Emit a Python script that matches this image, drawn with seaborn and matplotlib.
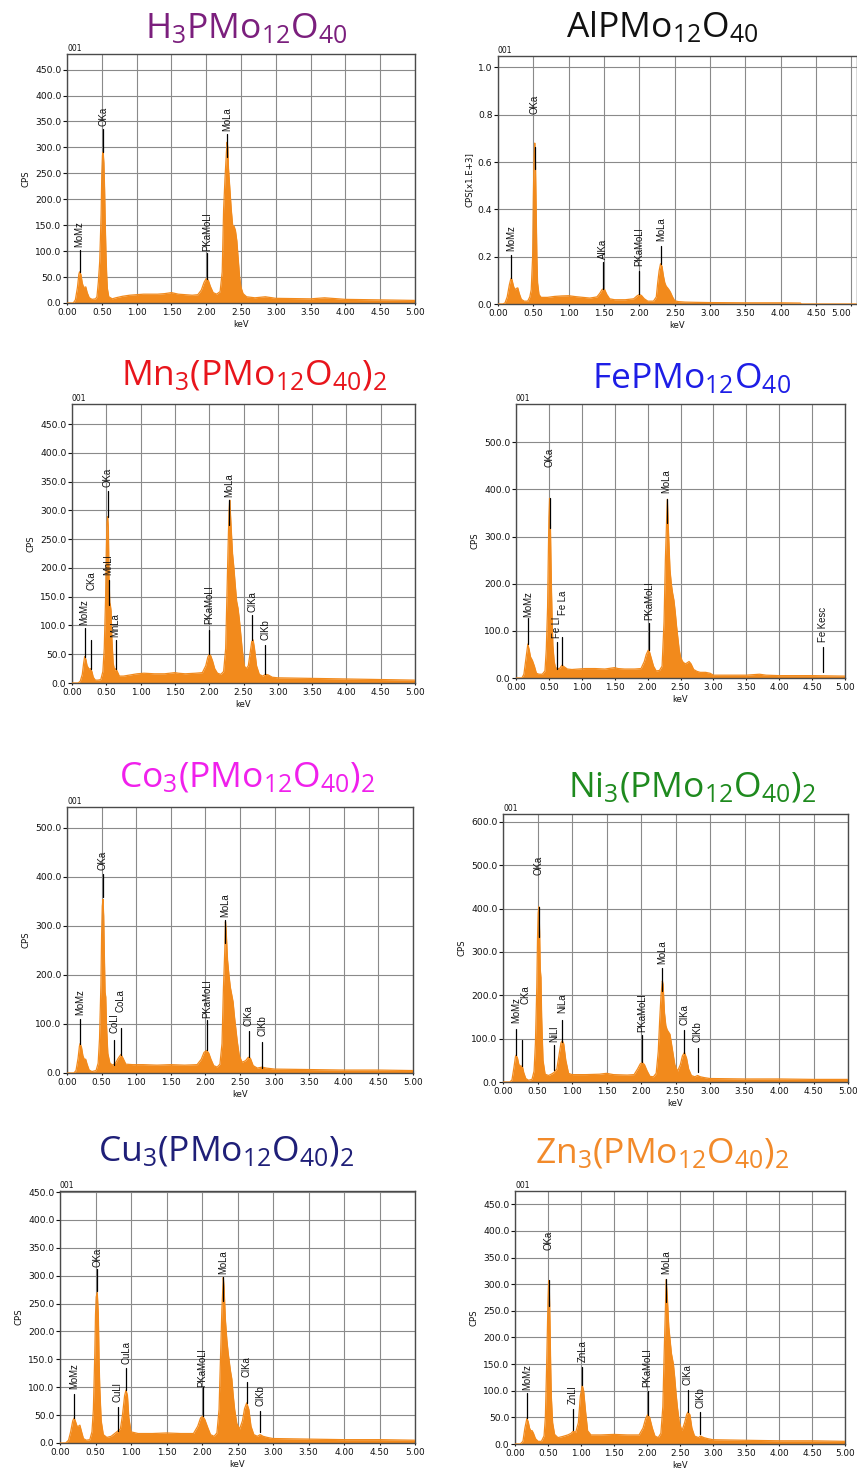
import numpy as np
import pandas as pd
import matplotlib
matplotlib.use("Agg")
import matplotlib.pyplot as plt
from matplotlib.ticker import FormatStrFormatter, MultipleLocator
import seaborn as sns

sns.set_theme(style="white")
plt.rcParams["font.family"] = ["DejaVu Sans"]
plt.rcParams["mathtext.fontset"] = "custom"
plt.rcParams["mathtext.rm"] = "Open Sans"
plt.rcParams["mathtext.it"] = "Open Sans"
plt.rcParams["mathtext.default"] = "rm"

# ---------------- spectra (keV, CPS) ----------------
h3_spectrum = [(0.00, 0), (0.09, 0), (0.12, 6), (0.15, 30), (0.17, 55), (0.18, 60), (0.20, 55),
               (0.22, 38), (0.24, 30), (0.27, 31), (0.29, 20), (0.32, 10), (0.36, 7), (0.41, 8),
               (0.43, 12), (0.45, 40), (0.47, 80), (0.49, 170), (0.50, 250), (0.51, 285), (0.52, 291),
               (0.53, 270), (0.54, 220), (0.55, 150), (0.56, 95), (0.57, 55), (0.58, 28), (0.60, 12),
               (0.65, 8), (0.70, 10), (0.80, 13), (0.90, 15), (1.00, 16), (1.10, 17), (1.20, 17),
               (1.30, 17), (1.40, 18), (1.50, 20), (1.60, 17), (1.70, 16), (1.80, 15), (1.88, 16),
               (1.93, 25), (1.97, 40), (2.00, 47), (2.03, 44), (2.06, 32), (2.10, 20), (2.15, 17),
               (2.20, 22), (2.23, 60), (2.25, 180), (2.27, 240), (2.29, 290), (2.30, 310), (2.31, 300),
               (2.32, 260), (2.34, 220), (2.36, 180), (2.38, 150), (2.40, 148), (2.42, 140), (2.44, 120),
               (2.46, 85), (2.48, 50), (2.50, 30), (2.53, 18), (2.58, 12), (2.70, 10), (2.85, 12),
               (3.00, 9), (3.50, 8), (3.70, 10), (4.00, 7), (4.50, 6), (5.00, 5)]

al_spectrum = [(0.00, 0), (0.07, 0), (0.10, 0.005), (0.13, 0.03), (0.16, 0.08), (0.18, 0.105), (0.19, 0.11),
               (0.20, 0.10), (0.22, 0.075), (0.24, 0.06), (0.26, 0.066), (0.28, 0.068), (0.30, 0.045),
               (0.33, 0.02), (0.37, 0.012), (0.42, 0.012), (0.45, 0.03), (0.47, 0.06), (0.49, 0.2),
               (0.50, 0.45), (0.51, 0.62), (0.52, 0.68), (0.53, 0.60), (0.54, 0.40), (0.55, 0.20),
               (0.56, 0.09), (0.58, 0.04), (0.61, 0.028), (0.70, 0.028), (0.80, 0.032), (0.90, 0.034),
               (1.00, 0.035), (1.10, 0.031), (1.20, 0.028), (1.30, 0.025), (1.40, 0.03), (1.44, 0.045),
               (1.47, 0.06), (1.49, 0.064), (1.51, 0.06), (1.54, 0.04), (1.58, 0.022), (1.65, 0.018),
               (1.80, 0.018), (1.92, 0.022), (1.97, 0.035), (2.00, 0.04), (2.03, 0.036), (2.07, 0.022),
               (2.12, 0.012), (2.20, 0.012), (2.24, 0.03), (2.26, 0.09), (2.28, 0.14), (2.30, 0.17),
               (2.32, 0.16), (2.34, 0.12), (2.36, 0.09), (2.38, 0.075), (2.40, 0.068), (2.42, 0.06),
               (2.44, 0.05), (2.47, 0.03), (2.50, 0.014), (2.55, 0.01), (2.65, 0.008), (2.80, 0.007),
               (3.00, 0.006), (3.50, 0.005), (4.00, 0.005), (4.28, 0.004), (4.29, 0), (5.07, 0)]

mn_spectrum = [(0.00, 0), (0.09, 0), (0.12, 3), (0.15, 15), (0.17, 35), (0.185, 46), (0.20, 42),
               (0.22, 30), (0.25, 24), (0.27, 25), (0.29, 20), (0.31, 10), (0.34, 5), (0.38, 5),
               (0.42, 6), (0.45, 20), (0.47, 60), (0.49, 150), (0.50, 230), (0.51, 280), (0.52, 289),
               (0.53, 270), (0.54, 180), (0.55, 140), (0.56, 135), (0.57, 125), (0.58, 80), (0.60, 35),
               (0.62, 22), (0.64, 25), (0.66, 20), (0.69, 12), (0.75, 12), (0.85, 14), (0.95, 16),
               (1.05, 17), (1.20, 16), (1.35, 16), (1.50, 18), (1.55, 17), (1.65, 16), (1.80, 17),
               (1.90, 18), (1.95, 30), (1.98, 45), (2.00, 50), (2.02, 48), (2.05, 38), (2.08, 25),
               (2.12, 17), (2.17, 15), (2.21, 20), (2.24, 60), (2.26, 160), (2.28, 260), (2.29, 300),
               (2.30, 318), (2.32, 270), (2.34, 225), (2.36, 200), (2.38, 170), (2.40, 142), (2.42, 130),
               (2.44, 110), (2.46, 85), (2.48, 60), (2.51, 30), (2.54, 25), (2.57, 30), (2.60, 55),
               (2.62, 72), (2.64, 75), (2.66, 60), (2.69, 30), (2.73, 15), (2.78, 12), (2.82, 15),
               (2.86, 14), (2.92, 10), (3.00, 9), (3.50, 8), (4.00, 7), (4.50, 6), (5.00, 5)]

fe_spectrum = [(0.00, 0), (0.09, 0), (0.12, 8), (0.15, 40), (0.18, 72), (0.20, 60), (0.22, 45),
               (0.25, 37), (0.28, 25), (0.31, 10), (0.35, 8), (0.40, 8), (0.44, 15), (0.46, 60),
               (0.48, 150), (0.49, 250), (0.50, 340), (0.51, 381), (0.52, 350), (0.53, 260), (0.54, 180),
               (0.55, 120), (0.56, 70), (0.58, 35), (0.60, 22), (0.63, 20), (0.66, 20), (0.70, 27),
               (0.73, 24), (0.78, 19), (0.85, 18), (0.95, 19), (1.05, 20), (1.20, 20), (1.35, 19),
               (1.50, 22), (1.55, 20), (1.65, 19), (1.80, 19), (1.90, 20), (1.95, 35), (1.98, 50),
               (2.01, 59), (2.03, 55), (2.06, 40), (2.09, 25), (2.13, 15), (2.18, 16), (2.22, 25),
               (2.25, 120), (2.27, 250), (2.29, 340), (2.30, 379), (2.32, 300), (2.34, 230), (2.36, 200),
               (2.38, 180), (2.40, 165), (2.42, 140), (2.44, 110), (2.46, 85), (2.48, 60), (2.50, 45),
               (2.53, 35), (2.57, 30), (2.60, 32), (2.63, 35), (2.66, 30), (2.70, 18), (2.75, 14),
               (2.80, 12), (2.88, 12), (2.95, 10), (3.00, 6), (3.20, 6), (3.50, 6), (3.70, 8),
               (3.80, 6), (4.00, 5), (4.50, 5), (5.00, 4)]

co_spectrum = [(0.00, 0), (0.10, 0), (0.13, 5), (0.16, 30), (0.18, 55), (0.19, 60), (0.21, 52),
               (0.23, 35), (0.25, 28), (0.27, 28), (0.29, 18), (0.32, 6), (0.36, 3), (0.42, 5),
               (0.45, 20), (0.47, 70), (0.49, 180), (0.50, 280), (0.51, 340), (0.52, 354), (0.53, 320),
               (0.54, 240), (0.55, 165), (0.56, 155), (0.57, 100), (0.59, 40), (0.62, 20), (0.66, 16),
               (0.70, 20), (0.74, 30), (0.78, 38), (0.81, 30), (0.85, 18), (0.95, 17), (1.10, 17),
               (1.30, 16), (1.50, 17), (1.70, 16), (1.88, 17), (1.94, 28), (1.98, 42), (2.02, 46),
               (2.05, 40), (2.08, 28), (2.12, 15), (2.17, 12), (2.21, 18), (2.24, 60), (2.26, 170),
               (2.28, 250), (2.29, 308), (2.30, 290), (2.32, 230), (2.34, 200), (2.36, 175), (2.38, 160),
               (2.40, 145), (2.42, 115), (2.44, 90), (2.46, 65), (2.49, 35), (2.53, 22), (2.58, 25),
               (2.62, 32), (2.65, 30), (2.69, 15), (2.75, 10), (2.82, 12), (2.88, 10), (3.00, 8),
               (3.50, 7), (4.00, 6), (4.50, 6), (5.00, 5)]

ni_spectrum = [(0.00, 0), (0.10, 0), (0.13, 5), (0.16, 35), (0.18, 58), (0.19, 62), (0.21, 55),
               (0.23, 40), (0.26, 36), (0.28, 37), (0.30, 22), (0.33, 8), (0.37, 4), (0.42, 6),
               (0.45, 25), (0.47, 90), (0.49, 220), (0.50, 330), (0.51, 390), (0.52, 404), (0.53, 350),
               (0.54, 260), (0.55, 241), (0.56, 150), (0.58, 50), (0.61, 18), (0.66, 15), (0.70, 18),
               (0.74, 22), (0.78, 30), (0.81, 60), (0.84, 90), (0.86, 95), (0.88, 88), (0.91, 50),
               (0.95, 20), (1.00, 17), (1.20, 17), (1.40, 18), (1.50, 20), (1.60, 17), (1.80, 16),
               (1.90, 17), (1.95, 30), (1.99, 42), (2.02, 45), (2.05, 40), (2.09, 25), (2.13, 13),
               (2.18, 12), (2.22, 20), (2.25, 70), (2.27, 140), (2.29, 200), (2.31, 233), (2.32, 225),
               (2.34, 160), (2.36, 130), (2.38, 120), (2.40, 115), (2.42, 110), (2.44, 90), (2.46, 70),
               (2.49, 40), (2.53, 25), (2.57, 40), (2.60, 60), (2.63, 68), (2.66, 55), (2.69, 30),
               (2.73, 15), (2.78, 12), (2.82, 15), (2.86, 12), (2.92, 10), (3.00, 8), (3.50, 7),
               (4.00, 7), (4.50, 6), (5.00, 6)]

cu_spectrum = [(0.00, 0), (0.08, 0), (0.12, 5), (0.15, 20), (0.18, 40), (0.20, 45), (0.22, 38),
               (0.24, 30), (0.26, 30), (0.28, 32), (0.30, 22), (0.33, 8), (0.37, 5), (0.42, 6),
               (0.45, 20), (0.47, 60), (0.49, 160), (0.50, 230), (0.51, 262), (0.525, 270), (0.54, 230),
               (0.55, 150), (0.56, 100), (0.58, 40), (0.61, 15), (0.66, 10), (0.72, 12), (0.78, 18),
               (0.81, 21), (0.85, 25), (0.88, 50), (0.91, 85), (0.93, 95), (0.95, 85), (0.97, 45),
               (1.00, 20), (1.10, 17), (1.30, 17), (1.50, 18), (1.70, 17), (1.88, 17), (1.94, 30),
               (1.98, 45), (2.01, 48), (2.04, 42), (2.08, 28), (2.12, 15), (2.17, 12), (2.21, 18),
               (2.24, 60), (2.26, 150), (2.28, 240), (2.30, 297), (2.31, 280), (2.33, 220), (2.35, 185),
               (2.37, 160), (2.40, 130), (2.42, 115), (2.44, 85), (2.46, 60), (2.49, 35), (2.53, 25),
               (2.57, 40), (2.60, 62), (2.63, 72), (2.66, 60), (2.69, 30), (2.73, 15), (2.78, 12),
               (2.82, 15), (2.86, 12), (2.92, 10), (3.00, 8), (3.50, 7), (4.00, 6), (4.50, 6), (5.00, 5)]

zn_spectrum = [(0.00, 0), (0.08, 0), (0.12, 5), (0.15, 30), (0.18, 48), (0.20, 42), (0.22, 30),
               (0.24, 25), (0.26, 25), (0.28, 20), (0.31, 10), (0.35, 5), (0.40, 5), (0.44, 15),
               (0.46, 50), (0.48, 150), (0.50, 270), (0.51, 307), (0.52, 290), (0.53, 230), (0.54, 150),
               (0.55, 90), (0.57, 40), (0.60, 18), (0.65, 12), (0.72, 14), (0.80, 17), (0.85, 20),
               (0.88, 24), (0.92, 22), (0.96, 40), (0.99, 90), (1.02, 110), (1.04, 100), (1.07, 60),
               (1.10, 25), (1.15, 17), (1.30, 17), (1.50, 18), (1.70, 17), (1.88, 17), (1.94, 30),
               (1.98, 48), (2.01, 55), (2.04, 50), (2.08, 30), (2.12, 15), (2.17, 12), (2.21, 20),
               (2.24, 70), (2.26, 170), (2.28, 260), (2.29, 309), (2.31, 270), (2.33, 220), (2.35, 195),
               (2.37, 170), (2.40, 150), (2.42, 125), (2.44, 95), (2.46, 70), (2.49, 40), (2.53, 25),
               (2.57, 40), (2.60, 55), (2.62, 60), (2.65, 55), (2.68, 30), (2.72, 15), (2.78, 12),
               (2.81, 15), (2.86, 12), (2.92, 10), (3.00, 8), (3.50, 7), (4.00, 6), (4.50, 6), (5.00, 5)]

# ---------------- peak identifications ----------------
# (label, keV, marker bottom, marker top, label base[, label keV])
h3_marks = [("MoMz", 0.18, 60, 103, 108), ("OKa", 0.52, 291, 336, 342),
            ("PKaMoLl", 2.01, 47, 97, 101), ("MoLa", 2.30, 281, 326, 331)]
al_marks = [("MoMz", 0.19, 0.11, 0.205, 0.226), ("OKa", 0.52, 0.572, 0.664, 0.805),
            ("AlKa", 1.49, 0.064, 0.177, 0.19), ("PKaMoLl", 2.00, 0.042, 0.141, 0.162),
            ("MoLa", 2.31, 0.17, 0.247, 0.268)]
mn_marks = [("MoMz", 0.185, 46, 95, 100), ("CKa", 0.27, 25, 74, 161, 0.285),
            ("OKa", 0.52, 289, 334, 341), ("MnLl", 0.535, 135, 179, 188),
            ("MnLa", 0.635, 25, 74, 80), ("PKaMoLl", 2.00, 51, 92, 103),
            ("MoLa", 2.285, 275, 318, 324), ("ClKa", 2.63, 74, 118, 124), ("ClKb", 2.82, 16, 66, 74)]
fe_marks = [("MoMz", 0.18, 72, 127, 130), ("OKa", 0.51, 318, 381, 448), ("Fe Ll", 0.62, 20, 76, 84),
            ("Fe La", 0.70, 27, 86, 134, 0.72), ("PKaMoLl", 2.02, 59, 116, 123),
            ("MoLa", 2.29, 328, 379, 392), ("Fe Kesc", 4.66, 13, 65, 77)]
co_marks = [("MoMz", 0.19, 60, 110, 119), ("OKa", 0.52, 359, 406, 413), ("CoLl", 0.68, 17, 68, 81),
            ("CoLa", 0.78, 37, 91, 125), ("PKaMoLl", 2.02, 46, 108, 112),
            ("MoLa", 2.29, 264, 312, 318), ("ClKa", 2.63, 32, 86, 95), ("ClKb", 2.82, 10, 64, 75)]
ni_marks = [("MoMz", 0.19, 62, 123, 135, 0.185), ("CKa", 0.28, 37, 96, 181, 0.325),
            ("OKa", 0.52, 335, 404, 478), ("NiLl", 0.74, 27, 85, 92), ("NiLa", 0.86, 92, 144, 158),
            ("PKaMoLl", 2.02, 45, 108, 116), ("MoLa", 2.31, 210, 263, 273),
            ("ClKa", 2.63, 68, 121, 131), ("ClKb", 2.82, 23, 79, 92)]
cu_marks = [("MoMz", 0.20, 45, 88, 97), ("OKa", 0.525, 273, 312, 315), ("CuLl", 0.81, 21, 64, 73),
            ("CuLa", 0.93, 95, 135, 142), ("PKaMoLl", 2.01, 48, 100, 100),
            ("MoLa", 2.30, 255, 297, 303), ("ClKa", 2.63, 72, 109, 118), ("ClKb", 2.82, 20, 58, 67)]
zn_marks = [("MoMz", 0.18, 48, 95, 101), ("OKa", 0.51, 259, 307, 364), ("ZnLl", 0.88, 26, 65, 76),
            ("ZnLa", 1.02, 110, 145, 154), ("PKaMoLl", 2.01, 54, 100, 107),
            ("MoLa", 2.29, 267, 309, 320), ("ClKa", 2.62, 60, 101, 110), ("ClKb", 2.81, 19, 60, 67)]

titles = [r"H$_3$PMo$_{12}$O$_{40}$", r"AlPMo$_{12}$O$_{40}$",
          r"Mn$_3$(PMo$_{12}$O$_{40}$)$_2$", r"FePMo$_{12}$O$_{40}$",
          r"Co$_3$(PMo$_{12}$O$_{40}$)$_2$", r"Ni$_3$(PMo$_{12}$O$_{40}$)$_2$",
          r"Cu$_3$(PMo$_{12}$O$_{40}$)$_2$", r"Zn$_3$(PMo$_{12}$O$_{40}$)$_2$"]
title_colors = ["#7B1F7D", "#111111", "#E8151C", "#1E1EE6", "#F020EC", "#1E8A1E", "#1F1F78", "#F28A2A"]
y_labels = ["CPS", "CPS[x1.E+3]", "CPS", "CPS", "CPS", "CPS", "CPS", "CPS"]
kev_ticks = [0.0, 0.5, 1.0, 1.5, 2.0, 2.5, 3.0, 3.5, 4.0, 4.5, 5.0]

ORANGE = "#F28A1C"
W, H = 857, 1472

fig = plt.figure(figsize=(W / 100, H / 100), dpi=100)
fig.patch.set_facecolor("white")

# pixel boxes: (left, right, top, bottom), y-limits, tick step, x max, title centre/baseline
panels = [
    (h3_spectrum, h3_marks, (67, 415, 54, 303), 480, 50, 5.0, (246, 38)),
    (al_spectrum, al_marks, (498, 857, 56, 304), 1.048, 0.2, 5.08, (662, 37)),
    (mn_spectrum, mn_marks, (72, 415, 404, 683), 485, 50, 5.0, (254, 385)),
    (fe_spectrum, fe_marks, (516, 845, 404, 678), 581, 100, 5.0, (692, 388)),
    (co_spectrum, co_marks, (67, 413, 807, 1073), 542, 100, 5.0, (247, 787)),
    (ni_spectrum, ni_marks, (503, 848, 814, 1082), 618, 100, 5.0, (692, 797)),
    (cu_spectrum, cu_marks, (60, 415, 1191, 1443), 452, 50, 5.0, (226, 1161)),
    (zn_spectrum, zn_marks, (515, 845, 1191, 1444), 475, 50, 5.0, (662, 1163)),
]

for i, (spec, marks, box, ymax, ystep, xmax, tpos) in enumerate(panels):
    x0, x1, y0, y1 = box
    ax = fig.add_axes([x0 / W, 1 - y1 / H, (x1 - x0) / W, (y1 - y0) / H])
    kev, cps = np.array(spec, dtype=float).T
    df = pd.DataFrame({"keV": kev, "CPS": cps})

    ax.fill_between(df["keV"], 0, df["CPS"], color=ORANGE, lw=0, zorder=2)
    sns.lineplot(data=df, x="keV", y="CPS", ax=ax, color=ORANGE, lw=0.9, zorder=3)

    for mark in marks:
        name, e, lo, hi, tb = mark[:5]
        tx = mark[5] if len(mark) > 5 else e
        ax.plot([e, e], [lo, hi], color="black", lw=0.9, zorder=4)
        ax.text(tx, tb, name, rotation=90, ha="center", va="bottom",
                fontsize=6.9, family="Liberation Sans", color="#111111", zorder=5)

    ax.set_xlim(0, xmax)
    ax.set_ylim(0, ymax)
    ax.yaxis.set_major_locator(MultipleLocator(ystep))
    ax.yaxis.set_major_formatter(FormatStrFormatter("%.1f"))
    ax.set_xticks(kev_ticks)
    xlabels = ax.set_xticklabels([f"{v:.2f}" for v in kev_ticks])
    if xmax > 5.0:
        # last label sits at the figure edge; anchor it from its right side
        xlabels[-1].set_horizontalalignment("right")
    ax.grid(True, color="#8a8a8a", lw=0.8)
    ax.set_axisbelow(True)
    for s in ax.spines.values():
        s.set_color("#4a4a4a")
        s.set_linewidth(1.0)
    ax.tick_params(axis="y", direction="out", length=3, width=0.8, pad=1,
                   labelsize=6.6, colors="#111111", left=True)
    ax.tick_params(axis="x", direction="out", length=1.5, width=0.8, pad=2,
                   labelsize=6.4, colors="#111111", bottom=True)
    ax.set_xlabel("keV", fontsize=6, labelpad=2.5, color="#111111")
    ax.set_ylabel(y_labels[i], fontsize=6.2, labelpad=3, color="#111111")
    ax.text(0.0, 1.005, "001", transform=ax.transAxes, fontsize=5.5,
            ha="left", va="bottom", color="#111111")

    fig.text(tpos[0] / W, 1 - tpos[1] / H, titles[i], ha="center", va="baseline",
             fontsize=25.5, family="Open Sans", color=title_colors[i])

fig.savefig("out.png", dpi=100, facecolor="white")
